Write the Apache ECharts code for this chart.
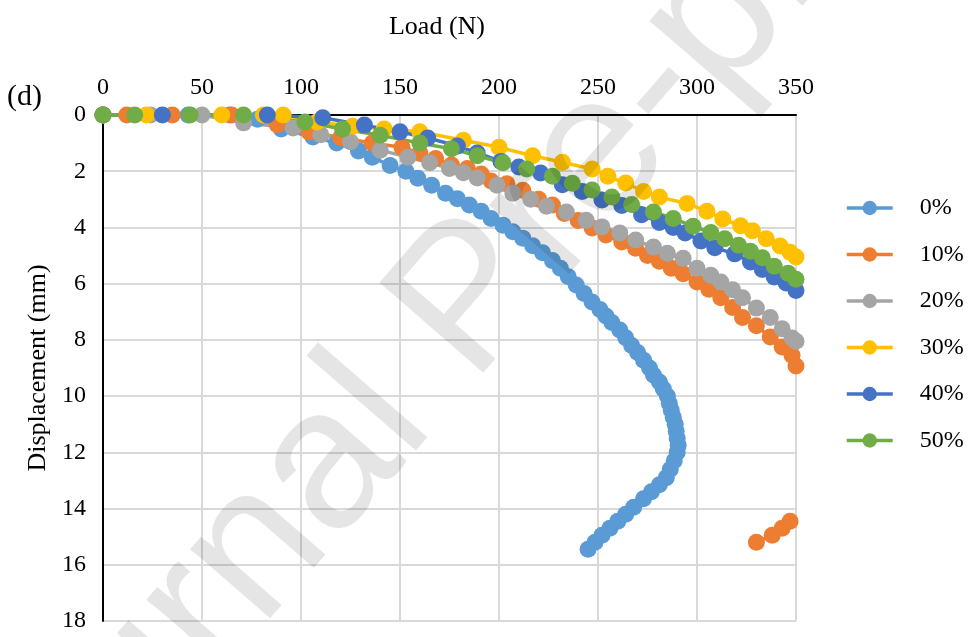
<!DOCTYPE html>
<html><head><meta charset="utf-8">
<script src="https://cdn.jsdelivr.net/npm/echarts@6/dist/echarts.min.js"></script>
<style>html,body{margin:0;padding:0;background:#fff}#c{width:968px;height:637px}</style>
</head><body><div id="c"></div>
<script>
const seriesNames = ['0%','10%','20%','30%','40%','50%'];
const colors = ['#5B9BD5','#ED7D31','#A5A5A5','#FFC000','#4472C4','#70AD47'];
const xTicks = [0,50,100,150,200,250,300,350];
const yTicks = [0,2,4,6,8,10,12,14,16,18];

const s0 = [[0,0],[43,0],[64,0],[78,0.15],[90,0.5],[106,0.78],[118,1.0],[129,1.28],[136,1.5],[145,1.8],[153,2.0],[159,2.25],[166,2.5],[173,2.78],[179,2.98],[185,3.2],[191,3.42],[196,3.68],[202,3.92],[207,4.15],[212,4.38],[217,4.65],[222,4.9],[227,5.18],[231,5.45],[235,5.75],[239,6.05],[243,6.35],[247,6.65],[251,6.92],[254,7.15],[257,7.38],[261,7.65],[264,7.92],[267,8.2],[270,8.45],[273,8.72],[276,9.0],[278,9.25],[281,9.5],[283,9.75],[285,10.0],[286,10.25],[287,10.5],[288,10.75],[289,11.0],[289.5,11.25],[290,11.5],[290.5,11.75],[290,12.0],[288.5,12.3],[286.5,12.6],[284.5,12.9],[281,13.15],[277,13.4],[273,13.65],[268,13.95],[264,14.2],[260,14.45],[256,14.7],[252,14.95],[248.5,15.2],[245,15.45]];
const s10 = [[0,0],[12,0],[35,0],[65,0],[88,0.35],[104,0.6],[120,0.8],[136,1.0],[151,1.15],[160,1.35],[168,1.55],[176,1.78],[184,1.9],[191,2.1],[196,2.35],[204,2.45],[212,2.68],[220,3.0],[227,3.2],[233,3.5],[240,3.75],[247,4.02],[254,4.27],[262,4.52],[269,4.74],[275,5.0],[281,5.2],[287,5.45],[293,5.65],[300,5.94],[306,6.2],[312,6.5],[318,6.85],[323,7.2],[330,7.5],[337,7.9],[343,8.25],[348,8.55],[350,8.93]];
const s10tail = [[347,14.45],[343,14.7],[338,14.95],[330,15.2]];
const s20 = [[0,0],[24,0],[50,0],[71,0.28],[96,0.46],[110,0.7],[125,0.95],[140,1.25],[154,1.5],[165,1.7],[175,1.9],[182,2.05],[189,2.24],[199,2.5],[207,2.78],[216,3.0],[224,3.25],[234,3.45],[244,3.74],[252,3.98],[261,4.2],[269,4.45],[278,4.7],[285,4.92],[293,5.1],[300,5.45],[307,5.7],[312,5.94],[318,6.22],[323,6.5],[330,6.87],[337,7.2],[343,7.6],[348,7.93],[350,8.05]];
const s30 = [[0,0],[22,0],[60,0],[81,0],[91,0],[108,0.25],[126,0.4],[142,0.5],[160,0.6],[182,0.9],[200,1.15],[217,1.45],[232,1.68],[247,1.92],[255,2.18],[264,2.42],[273,2.72],[281,2.92],[295,3.15],[305,3.42],[313,3.7],[322,3.94],[328,4.12],[335,4.4],[342,4.66],[347,4.88],[350,5.05]];
const s40 = [[0,0],[30,0],[83,0],[111,0.1],[132,0.36],[150,0.6],[164,0.82],[179,1.1],[189,1.35],[201,1.65],[210,1.85],[221,2.06],[232,2.48],[242,2.72],[252,3.02],[262,3.22],[272,3.55],[281,3.82],[288,4.0],[294,4.2],[302,4.48],[309,4.72],[319,4.94],[327,5.23],[333,5.5],[339,5.76],[345,5.98],[350,6.24]];
const s50 = [[0,0],[16,0],[44,0],[71,0],[102,0.25],[121,0.5],[140,0.72],[160,1.0],[176,1.2],[189,1.45],[202,1.7],[214,1.92],[227,2.18],[237,2.43],[247,2.67],[257,2.92],[267,3.18],[278,3.45],[288,3.68],[298,3.96],[307,4.18],[314,4.4],[321,4.63],[327,4.85],[333,5.08],[339,5.38],[346,5.63],[350,5.84]];

const FONT = "'Liberation Serif','Times New Roman',serif";
const chart = echarts.init(document.getElementById('c'), null, {renderer:'canvas'});
function mk(name, data, color){
  return {type:'line', name:name, data:data, symbol:'circle', symbolSize:17,
    lineStyle:{color:color,width:3.5}, itemStyle:{color:color}, animation:false};
}
const allData = [s0,s10,s20,s30,s40,s50];
const series = allData.map((d,i)=>mk(seriesNames[i], d, colors[i]));
series.push(mk(seriesNames[1], s10tail, colors[1]));

chart.setOption({
  animation:false,
  grid:{left:103, top:115, right:172, bottom:16},
  xAxis:{type:'value', position:'top', min:xTicks[0], max:xTicks[xTicks.length-1], interval:50,
    axisLine:{show:true, onZero:false, lineStyle:{color:'#000', width:2}},
    axisTick:{show:false},
    axisLabel:{fontFamily:FONT, fontSize:24, color:'#000', margin:15},
    splitLine:{show:true, lineStyle:{color:'#D9D9D9', width:2}}},
  yAxis:{type:'value', inverse:true, min:yTicks[0], max:yTicks[yTicks.length-1], interval:2,
    name:'Displacement (mm)', nameLocation:'middle', nameGap:52,
    nameTextStyle:{fontFamily:FONT, fontSize:26, color:'#000'},
    axisLine:{show:true, onZero:false, lineStyle:{color:'#000', width:2}},
    axisTick:{show:false},
    axisLabel:{fontFamily:FONT, fontSize:24, color:'#000', margin:17},
    splitLine:{show:true, lineStyle:{color:'#D9D9D9', width:2}}},
  legend:{orient:'vertical', left:840, top:191, itemWidth:46, itemHeight:18, itemGap:22.5,
    data:seriesNames, lineStyle:{width:3.5},
    textStyle:{fontFamily:FONT, fontSize:24, color:'#000', padding:[0,0,0,22]}},
  series:series,
  graphic:[
    {type:'text', x:437, y:27, style:{text:'Load (N)', font:"26px 'Liberation Serif', serif", fill:'#000', align:'center', verticalAlign:'middle'}},
    {type:'text', x:7, y:97, style:{text:'(d)', font:"30px 'Liberation Serif', serif", fill:'#000', align:'left', verticalAlign:'middle'}},
    {type:'text', x:471, y:303, rotation:49*Math.PI/180, z:100, silent:true,
      style:{text:'Journal Pre-proof', font:"200px 'Liberation Sans', Arial, sans-serif",
        fill:'rgba(0,0,0,0.1)', align:'center', verticalAlign:'middle'}}
  ]
});
</script></body></html>
